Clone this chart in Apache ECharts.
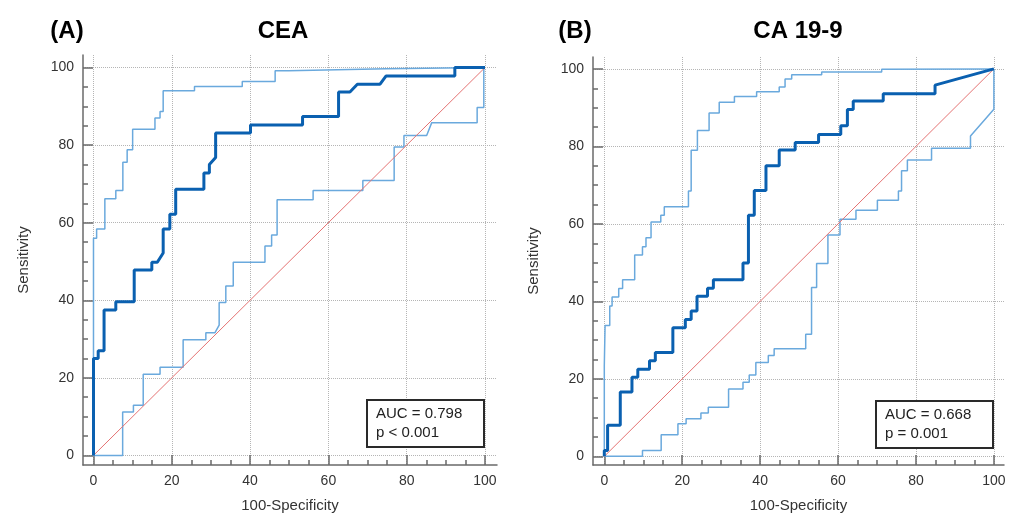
<!DOCTYPE html>
<html><head><meta charset="utf-8">
<script src="https://cdn.jsdelivr.net/npm/echarts@6/dist/echarts.min.js"></script>
<style>html,body{margin:0;padding:0;background:#fff}#c{width:1013px;height:518px}</style>
</head><body><div id="c"></div>
<script>
const majorTicks = [0, 20, 40, 60, 80, 100];
const minorTicks = [5, 10, 15, 25, 30, 35, 45, 50, 55, 65, 70, 75, 85, 90, 95];
const diagonal = [[0, 0], [100, 100]];

const ceaRoc = [[0,0],[0,25],[1.2,25],[1.2,27],[2.7,27],[2.7,37.5],[5.7,37.5],[5.7,39.6],[10.4,39.6],[10.4,47.8],[14.9,47.8],[14.9,49.8],[16.3,49.8],[17.8,52.2],[17.8,58.4],[19.5,58.4],[19.5,62.2],[21.0,62.2],[21.0,68.6],[28.2,68.6],[28.2,72.8],[29.6,72.8],[29.6,75.0],[31.2,76.8],[31.2,83.1],[40.1,83.1],[40.1,85.2],[53.4,85.2],[53.4,87.4],[62.6,87.4],[62.6,93.7],[65.5,93.7],[67.4,95.7],[73.2,95.7],[74.7,97.8],[92.3,97.8],[92.3,100],[100,100]];
const ceaUpper = [[0,0],[0,56.0],[0.8,56.0],[0.8,58.4],[2.9,58.4],[2.9,66.2],[5.7,66.2],[5.7,68.3],[7.5,68.3],[7.5,75.6],[8.6,75.6],[8.6,78.8],[10.0,78.8],[10.0,84.1],[15.7,84.1],[15.7,87.0],[17.0,87.0],[17.0,88.7],[17.8,88.7],[17.8,94.0],[25.8,94.0],[25.8,95.1],[38.0,95.1],[38.0,96.4],[46.4,96.4],[46.4,99.2],[49.8,99.2],[49.8,99.7],[74.8,99.7],[74.8,100],[100,100]];
const ceaLower = [[0,0],[7.45,0],[7.45,11.2],[10.2,11.2],[10.2,12.9],[12.7,12.9],[12.7,20.9],[17.0,20.9],[17.0,22.7],[22.9,22.7],[22.9,29.8],[28.7,29.8],[28.7,31.6],[31.0,31.6],[32.1,33.6],[32.1,39.4],[33.8,39.4],[33.8,43.7],[35.7,43.7],[35.7,49.8],[43.8,49.8],[43.8,54.0],[45.5,54.0],[45.5,56.8],[46.9,56.8],[46.9,65.9],[56.1,65.9],[56.1,68.3],[68.8,68.3],[68.8,70.9],[76.8,70.9],[76.8,79.5],[79.3,79.5],[79.3,82.5],[85.1,82.5],[86.4,85.8],[98.0,85.8],[98.0,89.7],[99.7,89.7],[99.7,100],[100,100]];

const caRoc = [[0,0],[0,1.5],[0.85,1.5],[0.85,8.0],[4.1,8.0],[4.1,16.6],[7.1,16.6],[7.1,20.4],[8.6,20.4],[8.6,22.5],[11.6,22.5],[11.6,24.7],[13.1,24.7],[13.1,26.8],[17.6,26.8],[17.6,33.2],[20.8,33.2],[20.8,35.3],[22.3,35.3],[22.3,37.5],[23.8,37.5],[23.8,41.3],[26.5,41.3],[26.5,43.4],[28.0,43.4],[28.0,45.6],[35.6,45.6],[35.6,49.9],[37.0,49.9],[37.0,62.2],[38.5,62.2],[38.5,68.6],[41.5,68.6],[41.5,75.0],[44.9,75.0],[44.9,79.1],[49.0,79.1],[49.0,81.0],[55.0,81.0],[55.0,83.1],[60.7,83.1],[60.7,85.3],[62.4,85.3],[62.4,89.5],[63.9,89.5],[63.9,91.7],[71.6,91.7],[71.6,93.6],[84.9,93.6],[84.9,95.8],[100,100]];
const caUpper = [[0,0],[0,23.4],[0.2,33.8],[1.4,33.8],[1.4,38.8],[2.0,38.8],[2.0,41.1],[3.7,41.1],[3.7,43.3],[4.7,43.3],[4.7,45.6],[7.8,45.6],[7.8,52.0],[9.8,52.0],[9.8,54.1],[10.7,54.1],[10.7,56.4],[12.0,56.4],[12.0,60.5],[14.5,60.5],[14.5,62.2],[15.4,62.2],[15.4,64.4],[21.6,64.4],[21.6,68.5],[22.3,68.5],[22.3,79.0],[23.9,79.0],[23.9,84.1],[26.9,84.1],[26.9,88.6],[29.5,88.6],[29.5,91.4],[33.4,91.4],[33.4,92.9],[39.1,92.9],[39.1,94.1],[44.9,94.1],[44.9,95.3],[46.4,95.3],[46.4,97.4],[48.1,97.4],[48.1,98.5],[55.8,98.5],[55.8,99.2],[71.2,99.2],[71.2,99.9],[100,100]];
const caLower = [[0,0],[9.8,0],[9.8,1.5],[14.6,1.5],[14.6,5.6],[18.9,5.6],[18.9,8.4],[21.0,8.4],[21.0,9.7],[24.8,9.7],[24.8,11.2],[26.7,11.2],[26.7,12.7],[31.9,12.7],[31.9,17.4],[35.6,17.4],[35.6,19.1],[37.2,19.1],[37.2,21.0],[38.9,21.0],[38.9,24.2],[42.1,24.2],[42.1,26.0],[43.6,26.0],[43.6,27.8],[51.7,27.8],[51.7,31.5],[53.2,31.5],[53.2,43.6],[54.5,43.6],[54.5,49.8],[57.4,49.8],[57.4,57.1],[60.5,57.1],[60.5,61.2],[64.6,61.2],[64.6,63.5],[70.1,63.5],[70.1,66.1],[75.5,66.1],[75.5,68.5],[76.3,68.5],[76.3,73.7],[77.8,73.7],[77.8,76.5],[84.0,76.5],[84.0,79.5],[94.0,79.5],[94.0,82.7],[100,89.6],[100,100]];

const panelTags = ['(A)', '(B)'];
const panelNames = ['CEA', 'CA 19-9'];
const aucTexts = ['AUC = 0.798\np < 0.001', 'AUC = 0.668\np = 0.001'];

const FONT = '"Liberation Sans", Arial, Helvetica, sans-serif';
const AX = '#6a6a6a';

const panels = [
  {roc: ceaRoc, upper: ceaUpper, lower: ceaLower,
   grid: {left: 83, top: 55, width: 414, height: 414},
   xr: [-2.68, 103.07], yr: [-2.48, 103.24],
   tagX: 67, nameX: 283, box: {left: 367, top: 400}},
  {roc: caRoc, upper: caUpper, lower: caLower,
   grid: {left: 593, top: 57, width: 411, height: 411.3},
   xr: [-2.9, 102.6], yr: [-2.23, 103.07],
   tagX: 575, nameX: 798, box: {left: 876, top: 401}}
];

const grids = [], xAxes = [], yAxes = [], series = [], titles = [], graphics = [];
panels.forEach((p, i) => {
  grids.push(Object.assign({containLabel: false}, p.grid));
  const major = (dim) => ({
    type: 'value', gridIndex: i,
    min: dim === 'x' ? p.xr[0] : p.yr[0], max: dim === 'x' ? p.xr[1] : p.yr[1],
    position: dim === 'x' ? 'bottom' : 'left',
    axisLine: {show: true, onZero: false, lineStyle: {color: AX, width: 1.5}},
    axisTick: {show: true, inside: true, length: 10, customValues: majorTicks, lineStyle: {color: AX, width: 1.5}},
    axisLabel: {show: true, customValues: majorTicks, margin: 9, fontSize: 14, color: '#333', fontFamily: FONT},
    splitLine: {show: true, lineStyle: {type: 'dotted', color: '#b5b5b5', width: 1}},
    name: dim === 'x' ? '100-Specificity' : 'Sensitivity',
    nameLocation: 'middle', nameGap: dim === 'x' ? 33 : 52,
    nameTextStyle: {fontSize: 15, color: '#333', fontFamily: FONT}
  });
  const minor = (dim) => ({
    type: 'value', gridIndex: i,
    min: dim === 'x' ? p.xr[0] : p.yr[0], max: dim === 'x' ? p.xr[1] : p.yr[1],
    position: dim === 'x' ? 'bottom' : 'left',
    axisLine: {show: false, onZero: false},
    axisTick: {show: true, inside: true, length: 5, customValues: minorTicks, lineStyle: {color: AX, width: 1.5}},
    axisLabel: {show: false},
    splitLine: {show: false}
  });
  xAxes.push(major('x'), minor('x'));
  yAxes.push(major('y'), minor('y'));
  const base = {type: 'line', xAxisIndex: 2 * i, yAxisIndex: 2 * i, symbol: 'none', showSymbol: false, animation: false, silent: true};
  series.push(Object.assign({}, base, {data: p.upper, lineStyle: {color: '#6aa9dd', width: 1.5}, z: 2}));
  series.push(Object.assign({}, base, {data: p.lower, lineStyle: {color: '#6aa9dd', width: 1.5}, z: 2}));
  series.push(Object.assign({}, base, {data: diagonal, lineStyle: {color: '#e57373', width: 1}, z: 3}));
  series.push(Object.assign({}, base, {data: p.roc, lineStyle: {color: '#0a60b0', width: 3}, z: 4}));
  titles.push({
    text: aucTexts[i], left: p.box.left, top: p.box.top,
    padding: [5, 22, 5, 9], borderColor: '#2a2a2a', borderWidth: 2, backgroundColor: '#fff',
    textStyle: {fontSize: 15, fontWeight: 'normal', color: '#222', lineHeight: 18.5, fontFamily: FONT}
  });
  graphics.push({type: 'text', x: p.tagX, y: 31, style: {text: panelTags[i], font: 'bold 24px ' + FONT, fill: '#000', textAlign: 'center', textVerticalAlign: 'middle', align: 'center', verticalAlign: 'middle'}});
  graphics.push({type: 'text', x: p.nameX, y: 31, style: {text: panelNames[i], font: 'bold 24px ' + FONT, fill: '#000', textAlign: 'center', textVerticalAlign: 'middle', align: 'center', verticalAlign: 'middle'}});
});

const chart = echarts.init(document.getElementById('c'), null, {renderer: 'canvas', width: 1013, height: 518});
chart.setOption({
  backgroundColor: '#fff',
  animation: false,
  title: titles,
  grid: grids,
  xAxis: xAxes,
  yAxis: yAxes,
  series: series,
  graphic: graphics
});
</script></body></html>
